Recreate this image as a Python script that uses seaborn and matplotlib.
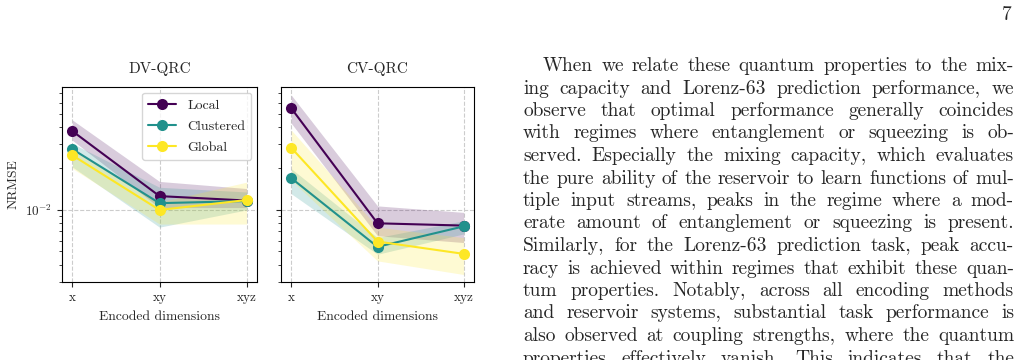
import numpy as np
import pandas as pd
import matplotlib
matplotlib.use("Agg")
import matplotlib.pyplot as plt
import matplotlib.ticker as mticker
import seaborn as sns

# data
dims = ["x", "xy", "xyz"]
models = ["Local", "Clustered", "Global"]
colors = ["#440154", "#21918c", "#fde725"]

# DV-QRC mean NRMSE and shaded bands
dv_local = [3.73e-2, 1.26e-2, 1.17e-2]
dv_clustered = [2.76e-2, 1.12e-2, 1.16e-2]
dv_global = [2.49e-2, 1.00e-2, 1.18e-2]
dv_local_lo = [3.20e-2, 1.04e-2, 1.04e-2]
dv_local_hi = [4.49e-2, 1.61e-2, 1.43e-2]
dv_clustered_lo = [2.05e-2, 7.5e-3, 1.00e-2]
dv_clustered_hi = [3.03e-2, 1.46e-2, 1.35e-2]
dv_global_lo = [2.00e-2, 7.9e-3, 7.9e-3]
dv_global_hi = [2.70e-2, 1.14e-2, 1.59e-2]

# CV-QRC mean NRMSE and shaded bands
cv_local = [5.46e-2, 8.0e-3, 7.7e-3]
cv_clustered = [1.70e-2, 5.4e-3, 7.6e-3]
cv_global = [2.82e-2, 5.9e-3, 4.8e-3]
cv_local_lo = [4.25e-2, 6.5e-3, 5.8e-3]
cv_local_hi = [6.80e-2, 1.07e-2, 9.6e-3]
cv_clustered_lo = [1.31e-2, 4.77e-3, 6.7e-3]
cv_clustered_hi = [1.99e-2, 6.3e-3, 8.35e-3]
cv_global_lo = [1.64e-2, 4.27e-3, 3.4e-3]
cv_global_hi = [3.79e-2, 7.5e-3, 6.3e-3]

panels = {
    "DV-QRC": ([dv_local, dv_clustered, dv_global],
               [dv_local_lo, dv_clustered_lo, dv_global_lo],
               [dv_local_hi, dv_clustered_hi, dv_global_hi]),
    "CV-QRC": ([cv_local, cv_clustered, cv_global],
               [cv_local_lo, cv_clustered_lo, cv_global_lo],
               [cv_local_hi, cv_clustered_hi, cv_global_hi]),
}

paragraph = [
    "When we relate these quantum properties to the mix-",
    "ing capacity and Lorenz-63 prediction performance, we",
    "observe that optimal performance generally coincides",
    "with regimes where entanglement or squeezing is ob-",
    "served. Especially the mixing capacity, which evaluates",
    "the pure ability of the reservoir to learn functions of mul-",
    "tiple input streams, peaks in the regime where a mod-",
    "erate amount of entanglement or squeezing is present.",
    "Similarly, for the Lorenz-63 prediction task, peak accu-",
    "racy is achieved within regimes that exhibit these quan-",
    "tum properties.  Notably, across all encoding methods",
    "and reservoir systems, substantial task performance is",
    "also observed at coupling strengths, where the quantum",
    "properties effectively vanish. This indicates that the",
]

sns.set_style("ticks")
plt.rcParams["font.family"] = "serif"
plt.rcParams["font.serif"] = ["cmr10", "DejaVu Serif"]
plt.rcParams["mathtext.fontset"] = "cm"
plt.rcParams["axes.formatter.use_mathtext"] = True
plt.rcParams["axes.unicode_minus"] = False

W, H = 1019, 360
fig = plt.figure(figsize=(W / 100, H / 100), dpi=100)

def px_axes(x0, y0, x1, y1):
    return fig.add_axes([x0 / W, 1 - y1 / H, (x1 - x0) / W, (y1 - y0) / H])

ax_dv = px_axes(62, 87, 257, 282)
ax_cv = px_axes(281, 87, 474, 282)

for ax, (title, (means, lows, highs)) in zip([ax_dv, ax_cv], panels.items()):
    for name, col, m, lo, hi in zip(models, colors, means, lows, highs):
        ax.fill_between(range(len(dims)), lo, hi, color=col, alpha=0.2, lw=0)
        df = pd.DataFrame({"dim": dims, "nrmse": m})
        sns.lineplot(data=df, x="dim", y="nrmse", ax=ax, color=col, marker="o",
                     markersize=8, markeredgewidth=0, linewidth=1.5, label=name)
    ax.set_yscale("log")
    ax.set_ylim(3e-3, 7.8e-2)
    ax.set_xlim(-0.12, 2.12)
    ax.set_title(title, fontsize=11, pad=10)
    ax.set_xlabel("Encoded dimensions", fontsize=9.8, labelpad=5)
    ax.set_ylabel("")
    ax.yaxis.set_minor_formatter(mticker.NullFormatter())
    ax.grid(True, which="major", ls="--", color="#cccccc", lw=0.8)
    ax.tick_params(axis="both", which="major", labelsize=9.5, length=3.5, width=0.8)
    ax.tick_params(axis="y", which="minor", length=2, width=0.6)
    for s in ax.spines.values():
        s.set_linewidth(0.8)
        s.set_color("black")

ax_dv.set_ylabel("NRMSE", fontsize=9.8)
ax_dv.legend(loc="upper right", fontsize=10, frameon=True, edgecolor="#cccccc",
             handlelength=2.0, borderpad=0.45, labelspacing=0.6,
             borderaxespad=0.4)
ax_cv.get_legend().remove()
ax_cv.tick_params(axis="y", which="both", labelleft=False)

# justified paragraph: pick the size so the tightest line fits with normal spaces
fig.canvas.draw()
renderer = fig.canvas.get_renderer()
left, right = 523, 1014
base0, lead = 71, 22.5

tight = paragraph[5].split(" ")
probe = [fig.text(0, 0, w, fontsize=10) for w in tight]
w10 = sum(t.get_window_extent(renderer).width for t in probe)
for t in probe:
    t.remove()
fs = (right - left) / (w10 / 10 + (len(tight) - 1) * 0.333 * 100 / 72)

fig.text(1012 / W, 1 - 20 / H, "7", fontsize=fs, ha="right", va="baseline")

for i, line in enumerate(paragraph):
    words = [w for w in line.split(" ") if w != ""]
    y = 1 - (base0 + i * lead) / H
    x_start = left + 20 if i == 0 else left
    texts = [fig.text(0, y, w, fontsize=fs, ha="left", va="baseline") for w in words]
    widths = [t.get_window_extent(renderer).width for t in texts]
    gap = (right - x_start - sum(widths)) / max(len(words) - 1, 1)
    x = x_start
    for t, wd in zip(texts, widths):
        t.set_x(x / W)
        x += wd + gap

fig.savefig("out.png", dpi=100)
